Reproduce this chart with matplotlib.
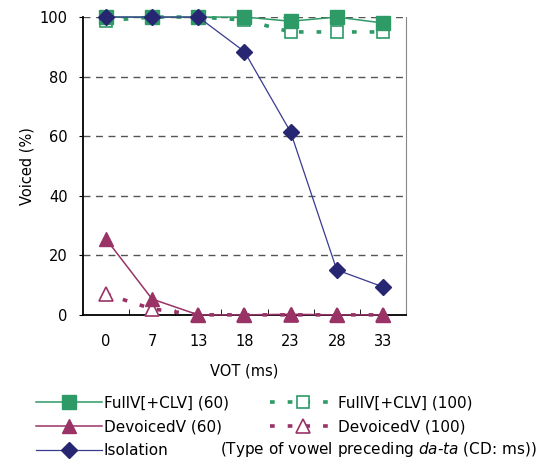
import matplotlib.pyplot as plt

plt.rcParams['font.family'] = ['DejaVu Sans', 'Noto Sans CJK JP']
plt.rcParams['mathtext.fontset'] = 'dejavusans'

# VOT categories (ms)
vot_labels = ['0', '7', '13', '18', '23', '28', '33']

fullv_60 = [100, 100, 100, 100, 98.6, 100, 98]
fullv_100 = [98.8, 100, 100, 99, 95, 95, 95]
devoiced_60 = [25.5, 5.3, 0, 0, 0.2, 0, 0]
devoiced_100 = [7, 2, 0, 0, 0, 0, 0]
isolation = [100, 100, 100, 88.4, 61.4, 15.1, 9.4]

green = '#2e9a66'
maroon = '#993366'
navy = '#262673'

fig = plt.figure(figsize=(5.6, 4.61), dpi=100)
ax = fig.add_axes([0.148, 0.317, 0.577, 0.646])

x = list(range(len(vot_labels)))
dots = (0, (1.3, 3.6))

ax.plot(x, fullv_100, color=green, lw=2.6, ls=dots, marker='s', ms=9,
        mfc='white', mec=green, mew=1.2, label='FullV[+CLV] (100)', zorder=3, clip_on=False)
ax.plot(x, fullv_60, color=green, lw=1.1, marker='s', ms=9.5, mfc=green, mec=green,
        label='FullV[+CLV] (60)', zorder=4, clip_on=False)
ax.plot(x, devoiced_100, color=maroon, lw=2.6, ls=dots, marker='^', ms=9.5,
        mfc='white', mec=maroon, mew=1.2, label='DevoicedV (100)', zorder=3, clip_on=False)
ax.plot(x, devoiced_60, color=maroon, lw=1.1, marker='^', ms=9.5, mfc=maroon, mec=maroon,
        label='DevoicedV (60)', zorder=4, clip_on=False)
ax.plot(x, isolation, color='#3a3a8f', lw=0.9, marker='D', ms=8, mfc=navy, mec=navy,
        label='Isolation', zorder=5, clip_on=False)

ax.set_xlim(-0.5, len(vot_labels) - 0.5)
ax.set_ylim(0, 100)
ax.set_xticks(x)
ax.set_xticklabels(vot_labels, fontsize=10.5)
ax.set_xticks([i + 0.5 for i in x[:-1]], minor=True)
ax.tick_params(axis='x', which='major', length=0, pad=14)
ax.tick_params(axis='x', which='minor', direction='in', length=4, color='black')
ax.set_yticks([0, 20, 40, 60, 80, 100])
ax.tick_params(axis='y', labelsize=10.5, length=3, direction='out', pad=8)

for yv in [20, 40, 60, 80, 100]:
    ax.axhline(yv, color='#555555', lw=1.0, ls=(0, (5, 4)), zorder=1)

ax.spines['top'].set_visible(False)
ax.spines['right'].set_color('#888888')
ax.spines['left'].set_linewidth(1.3)
ax.spines['bottom'].set_linewidth(1.3)

ax.set_xlabel('VOT (ms)', fontsize=10.5, labelpad=10)
ax.set_ylabel('Voiced (%)', fontsize=10.5, labelpad=4)

h = {l.get_label(): l for l in ax.get_lines()}
order = ['FullV[+CLV] (60)', 'DevoicedV (60)', 'Isolation',
         'FullV[+CLV] (100)', 'DevoicedV (100)']
fig.legend([h[k] for k in order], order, ncol=2, loc='upper left',
           bbox_to_anchor=(0.064, 0.142), frameon=False,
           fontsize=11, handlelength=4.3, columnspacing=2.7, labelspacing=0.58,
           handletextpad=0.15, borderaxespad=0, borderpad=0)

fig.text(0.392, 0.024, r'(Type of vowel preceding $\it{da}$-$\it{ta}$ (CD: ms))',
         fontsize=11, va='center')

fig.savefig('out.png', dpi=100)
